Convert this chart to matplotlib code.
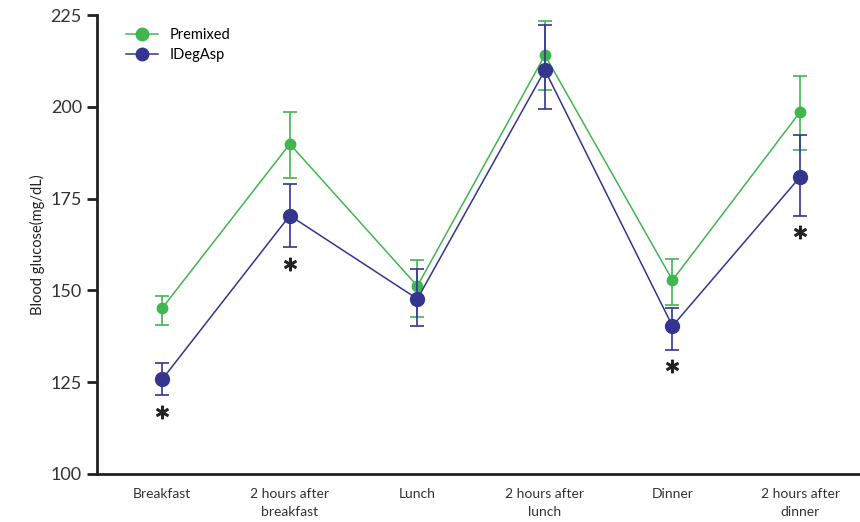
import matplotlib.pyplot as plt
from matplotlib.lines import Line2D
import numpy as np

plt.rcParams['font.family'] = ['Lato', 'DejaVu Sans']

times = ['Breakfast', '2 hours after\nbreakfast', 'Lunch', '2 hours after\nlunch',
         'Dinner', '2 hours after\ndinner']

premixed = [145.2, 189.9, 151.2, 214.1, 152.8, 198.6]
premixed_lo = [140.6, 180.6, 142.8, 204.6, 146.0, 188.2]
premixed_hi = [148.4, 198.6, 158.3, 223.4, 158.6, 208.4]

idegasp = [125.8, 170.4, 147.7, 210.0, 140.3, 180.9]
idegasp_lo = [121.4, 161.8, 140.4, 199.4, 133.8, 170.3]
idegasp_hi = [130.2, 179.0, 155.8, 222.3, 145.2, 192.3]

star_idx = [0, 1, 4, 5]
star_y = [116.8, 157.3, 129.3, 165.8]

green = '#41b650'
navy = '#34358f'

x = np.arange(len(times))

fig = plt.figure(figsize=(8.6, 5.22), dpi=100)
ax = fig.add_axes([0.113, 0.092, 0.887, 0.879])

p = np.array(premixed)
ax.errorbar(x, p, yerr=[p - np.array(premixed_lo), np.array(premixed_hi) - p],
            color=green, lw=1.1, marker='o', ms=7.5, capsize=5, capthick=1.2,
            elinewidth=1.2, zorder=2)
d = np.array(idegasp)
ax.errorbar(x, d, yerr=[d - np.array(idegasp_lo), np.array(idegasp_hi) - d],
            color=navy, lw=1.1, marker='o', ms=10, capsize=5, capthick=1.2,
            elinewidth=1.2, zorder=3)

# significance markers
for i, yy in zip(star_idx, star_y):
    ax.plot(x[i], yy, marker=r'$\ast$', ms=9, color='#222222', ls='none')

ax.set_xlim(-0.51, 5.47)
ax.set_ylim(100, 225)
ax.set_yticks([100, 125, 150, 175, 200, 225])
ax.set_xticks(x)
ax.set_xticklabels(times, fontsize=10, color='#333333', linespacing=1.6)
ax.tick_params(axis='x', length=0, pad=10)
ax.tick_params(axis='y', labelsize=13, length=7, width=2, color='#222222',
               labelcolor='#333333', pad=4)
ax.set_ylabel('Blood glucose(mg/dL)', fontsize=10.5, color='#222222', labelpad=4)

for s in ['top', 'right']:
    ax.spines[s].set_visible(False)
for s in ['left', 'bottom']:
    ax.spines[s].set_linewidth(2)
    ax.spines[s].set_color('#222222')

handles = [Line2D([], [], color=green, lw=1.1, marker='o', ms=9),
           Line2D([], [], color=navy, lw=1.1, marker='o', ms=9)]
ax.legend(handles, ['Premixed', 'IDegAsp'], loc='upper left', bbox_to_anchor=(0.02, 1.0),
          frameon=False, fontsize=10.5, handlelength=2.2, labelspacing=0.4)

fig.savefig('out.png', dpi=100)
